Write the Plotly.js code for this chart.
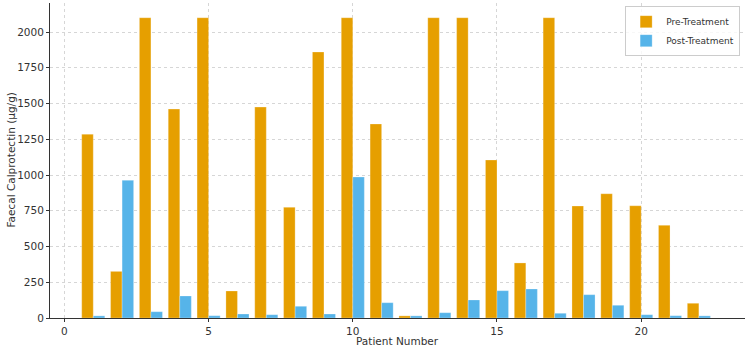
<!DOCTYPE html>
<html>
<head>
<meta charset="utf-8">
<script src="https://cdn.plot.ly/plotly-3.0.1.min.js"></script>
<style>html,body{margin:0;padding:0;background:#fff;}#chart{width:750px;height:352px;}</style>
</head>
<body>
<div id="chart"></div>
<script>
const patients = [1,2,3,4,5,6,7,8,9,10,11,12,13,14,15,16,17,18,19,20,21,22];
const preTreatment = [1285,326,2100,1461,2100,189,1475,774,1860,2100,1357,15,2100,2100,1105,385,2100,783,869,785,648,103];
const postTreatment = [15,963,44,154,16,28,23,82,28,986,107,15,37,126,191,203,33,163,89,23,16,15];
const yTicks = [0,250,500,750,1000,1250,1500,1750,2000];
const xTicks = [0,5,10,15,20];
const xTitle = 'Patient Number';
const yTitle = 'Faecal Calprotectin (μg/g)';

const font = {family: 'DejaVu Sans, sans-serif', size: 10.5, color: '#333'};
const data = [
  {type:'bar', name:'Pre-Treatment', x:patients, y:preTreatment, marker:{color:'#E69F00', line:{color:'rgba(255,255,255,0.5)', width:0.5}}},
  {type:'bar', name:'Post-Treatment', x:patients, y:postTreatment, marker:{color:'#56B4E9', line:{color:'rgba(255,255,255,0.5)', width:0.5}}}
];
const layout = {
  width:750, height:352,
  margin:{l:50, r:5, t:3, b:34},
  paper_bgcolor:'#fff', plot_bgcolor:'#fff',
  font: font,
  barmode:'group', bargap:0.2, bargroupgap:0,
  showlegend:true,
  legend:{x:0.993, y:0.99, xanchor:'right', yanchor:'top', bgcolor:'rgba(255,255,255,0.8)', bordercolor:'#ccc', borderwidth:1, itemwidth:30, font:{family:'DejaVu Sans, sans-serif', size:9, color:'#333'}, tracegroupgap:0},
  xaxis:{
    range:[-0.5, 23.6], tickvals:xTicks, ticktext:xTicks.map(String),
    showgrid:true, gridcolor:'#d6d6d6', griddash:'dot', gridwidth:1,
    showline:true, linecolor:'#333', linewidth:1, ticks:'outside', ticklen:3, tickcolor:'#333',
    zeroline:false
  },
  yaxis:{
    range:[0, 2203], tickvals:yTicks, ticktext:yTicks.map(String),
    showgrid:true, gridcolor:'#d6d6d6', griddash:'dot', gridwidth:1,
    showline:true, linecolor:'#333', linewidth:1, ticks:'outside', ticklen:3, tickcolor:'#333',
    zeroline:false
  },
  annotations:[
    {text:xTitle, xref:'paper', yref:'paper', x:0.5, y:0, xanchor:'center', yanchor:'top', yshift:-15, showarrow:false, font:{size:10.5, color:'#333'}},
    {text:yTitle, xref:'paper', yref:'paper', x:0, y:0.5, xanchor:'right', yanchor:'middle', xshift:-32, textangle:-90, showarrow:false, font:{size:10.5, color:'#333'}}
  ]
};
Plotly.newPlot('chart', data, layout, {staticPlot:true, displayModeBar:false});
</script>
</body>
</html>
